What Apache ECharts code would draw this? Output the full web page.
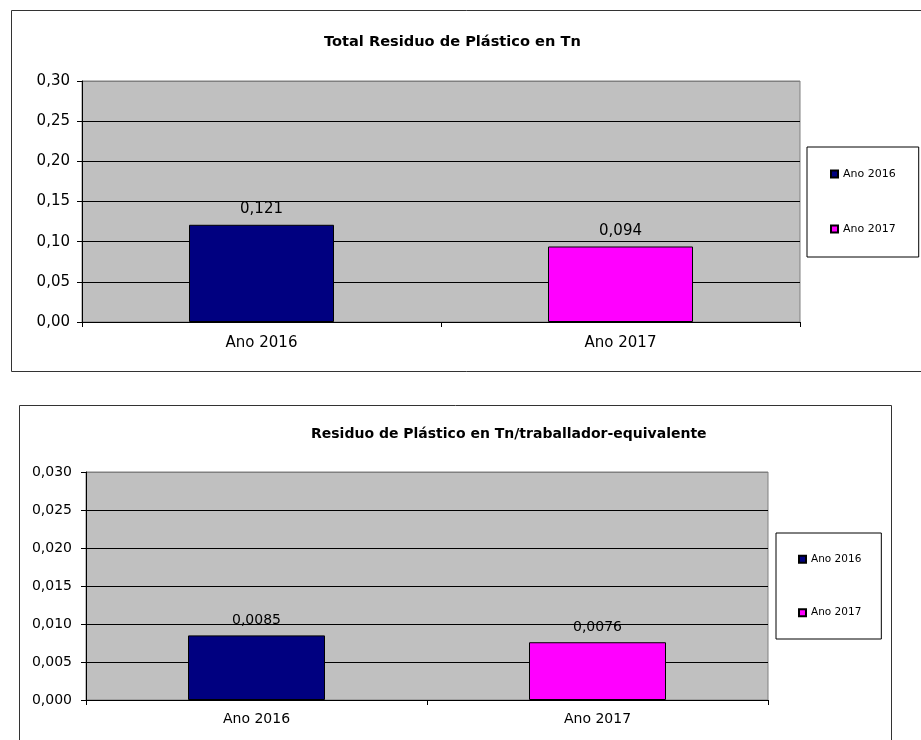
<!DOCTYPE html>
<html>
<head>
<meta charset="utf-8">
<script src="https://cdn.jsdelivr.net/npm/echarts@6/dist/echarts.min.js"></script>
<style>
  html, body { margin: 0; padding: 0; background: #ffffff; }
  #chart { width: 921px; height: 740px; }
</style>
</head>
<body>
<div id="chart"></div>
<script>
// values
const categories = ['Ano 2016', 'Ano 2017'];
const totalValues = [0.121, 0.094];
const perWorkerValues = [0.0085, 0.0076];
const totalTicks = { min: 0, max: 0.30, interval: 0.05, decimals: 2 };
const perWorkerTicks = { min: 0, max: 0.030, interval: 0.005, decimals: 3 };
const titles = ['Total Residuo de Plástico en Tn', 'Residuo de Plástico en Tn/traballador-equivalente'];

const yearColors = ['#000080', '#ff00ff'];
const font = 'DejaVu Sans';

function comma(v) {
  return String(v).replace('.', ',');
}

// grid line colours, top line of plot area stays grey
function splitColors(t) {
  const n = Math.round((t.max - t.min) / t.interval) + 1;
  const arr = [];
  for (let i = 0; i < n; i++) arr.push(i === n - 1 ? '#808080' : '#000000');
  return arr;
}

function makeAxes(gi, ticks, fontSize, labelMargin, xMargin) {
  const x = {
    type: 'category',
    gridIndex: gi,
    data: categories,
    axisLine: { lineStyle: { color: '#000', width: 1 } },
    axisTick: { show: true, length: 5, lineStyle: { color: '#000' } },
    axisLabel: { color: '#000', fontSize: fontSize, fontFamily: font, margin: xMargin }
  };
  const y = {
    type: 'value',
    gridIndex: gi,
    min: ticks.min,
    max: ticks.max,
    interval: ticks.interval,
    axisLine: { show: true, lineStyle: { color: '#000', width: 1 } },
    axisTick: { show: true, length: 5, lineStyle: { color: '#000' } },
    axisLabel: {
      color: '#000', fontSize: fontSize, fontFamily: font, margin: labelMargin,
      formatter: v => v.toFixed(ticks.decimals).replace('.', ',')
    },
    splitLine: { show: true, lineStyle: { color: splitColors(ticks), width: 1 } }
  };
  return [x, y];
}

function makeSeries(gi, values, barWidth, fontSize) {
  return categories.map((name, i) => ({
    name: name,
    type: 'bar',
    xAxisIndex: gi,
    yAxisIndex: gi,
    barWidth: barWidth,
    barGap: '-100%',
    data: categories.map((c, j) => (j === i ? values[i] : '-')),
    itemStyle: { color: yearColors[i], borderColor: '#000', borderWidth: 1 },
    label: {
      show: true,
      position: 'top',
      distance: 8,
      color: '#000',
      fontSize: fontSize,
      fontFamily: font,
      formatter: p => comma(p.value)
    }
  }));
}

const a1 = makeAxes(0, totalTicks, 15, 12, 14);
const a2 = makeAxes(1, perWorkerTicks, 14, 14, 12);

const chart = echarts.init(document.getElementById('chart'));
chart.setOption({
  animation: false,
  backgroundColor: '#ffffff',
  textStyle: { fontFamily: font },
  title: [
    {
      text: titles[0], left: 324, top: 35, padding: 0,
      textStyle: { fontFamily: font, fontSize: 14.6, fontWeight: 'bold', color: '#000' }
    },
    {
      text: titles[1], left: 311, top: 427, padding: 0,
      textStyle: { fontFamily: font, fontSize: 14, fontWeight: 'bold', color: '#000' }
    }
  ],
  graphic: [
    {
      type: 'rect', silent: true,
      shape: { x: 11.5, y: 10.5, width: 930, height: 361 },
      style: { fill: 'none', stroke: '#333', lineWidth: 1 }
    },
    {
      type: 'rect', silent: true,
      shape: { x: 19.5, y: 405.5, width: 872, height: 360 },
      style: { fill: 'none', stroke: '#333', lineWidth: 1 }
    }
  ],
  grid: [
    { left: 82, top: 81, width: 718, height: 241, show: true, backgroundColor: '#c0c0c0', borderColor: '#808080', borderWidth: 1 },
    { left: 86, top: 472, width: 682, height: 228, show: true, backgroundColor: '#c0c0c0', borderColor: '#808080', borderWidth: 1 }
  ],
  legend: [
    {
      data: categories, orient: 'vertical', left: 807, top: 147,
      padding: [21.5, 23, 22.5, 23], itemGap: 44,
      itemWidth: 7, itemHeight: 7, icon: 'rect',
      backgroundColor: '#fff', borderColor: '#000', borderWidth: 1,
      textStyle: { fontSize: 11, fontFamily: font, color: '#000' },
      selectedMode: false
    },
    {
      data: categories, orient: 'vertical', left: 776, top: 533,
      padding: [20.75, 20, 20.75, 22], itemGap: 42.5,
      itemWidth: 7, itemHeight: 7, icon: 'rect',
      backgroundColor: '#fff', borderColor: '#000', borderWidth: 1,
      textStyle: { fontSize: 10.5, fontFamily: font, color: '#000' },
      selectedMode: false
    }
  ],
  xAxis: [a1[0], a2[0]],
  yAxis: [a1[1], a2[1]],
  series: makeSeries(0, totalValues, 145, 15).concat(makeSeries(1, perWorkerValues, 137, 14))
});
</script>
</body>
</html>
